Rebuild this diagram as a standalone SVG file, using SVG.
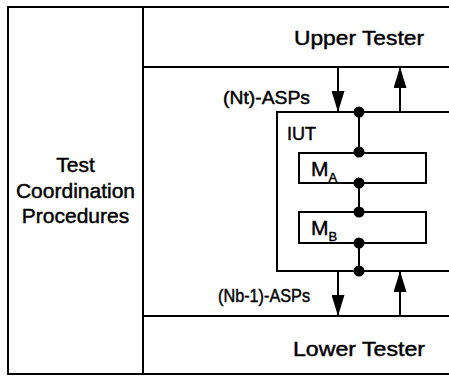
<svg xmlns="http://www.w3.org/2000/svg" width="449" height="378" viewBox="0 0 449 378">
  <style>
    .box { fill: none; stroke: #000; stroke-width: 2; }
    .line { fill: none; stroke: #000; stroke-width: 2; }
    .dot { fill: #000; }
    text { font-family: "Liberation Sans", Arial, Helvetica, sans-serif; fill: #000; stroke: #000; stroke-width: 0.45; }
    .big { font-size: 21px; }
    .lbl { font-size: 18px; }
  </style>
  <defs>
    <marker id="arrow" viewBox="0 0 21 13" refX="21" refY="6.5" markerWidth="21" markerHeight="13" markerUnits="userSpaceOnUse" orient="auto">
      <path d="M0,0 L21,6.5 L0,13 Z" fill="#000"/>
    </marker>
  </defs>
  <rect width="449" height="378" fill="#fff"/>

  <!-- outer frame (open on the right) -->
  <g id="frame">
    <path class="box" d="M451,7 H8 V374 H451"/>
  </g>

  <g id="test-coordination">
    <line class="line" x1="143" y1="7" x2="143" y2="374"/>
    <text class="big" x="75.5" y="172" text-anchor="middle">Test</text>
    <text class="big" x="75.5" y="198" text-anchor="middle">Coordination</text>
    <text class="big" x="75.5" y="223" text-anchor="middle">Procedures</text>
  </g>

  <g id="upper-tester">
    <line class="line" x1="143" y1="67" x2="451" y2="67"/>
    <text class="big" x="359" y="45" text-anchor="middle" textLength="130" lengthAdjust="spacingAndGlyphs">Upper Tester</text>
  </g>

  <g id="lower-tester">
    <line class="line" x1="143" y1="316" x2="451" y2="316"/>
    <text class="big" x="359" y="356" text-anchor="middle" textLength="132" lengthAdjust="spacingAndGlyphs">Lower Tester</text>
  </g>

  <g id="iut">
    <path class="box" d="M451,112 H277 V271 H451"/>
    <text class="lbl" x="287" y="140" font-size="19">IUT</text>
  </g>

  <g id="ma">
    <rect class="box" x="299" y="153" width="127" height="30"/>
    <text x="311" y="176" font-size="21">M<tspan font-size="13" dy="6">A</tspan></text>
  </g>

  <g id="mb">
    <rect class="box" x="299" y="212" width="127" height="31"/>
    <text x="311" y="235" font-size="21">M<tspan font-size="13" dy="6">B</tspan></text>
  </g>

  <g id="connectors">
    <!-- service access points -->
    <line class="line" x1="359" y1="112" x2="359" y2="153"/>
    <line class="line" x1="359" y1="183" x2="359" y2="212"/>
    <line class="line" x1="359" y1="243" x2="359" y2="271"/>
    <circle class="dot" cx="359" cy="112" r="5.5"/>
    <circle class="dot" cx="359" cy="152" r="5.5"/>
    <circle class="dot" cx="359" cy="183" r="5.5"/>
    <circle class="dot" cx="359" cy="212" r="5.5"/>
    <circle class="dot" cx="359" cy="243" r="5.5"/>
    <circle class="dot" cx="359" cy="271" r="5.5"/>

    <!-- upper ASP flows -->
    <line class="line" x1="338" y1="67" x2="338" y2="112" marker-end="url(#arrow)"/>
    <line class="line" x1="400" y1="112" x2="400" y2="67" marker-end="url(#arrow)"/>
    <text class="lbl" x="223" y="104" textLength="87" lengthAdjust="spacingAndGlyphs">(Nt)-ASPs</text>

    <!-- lower ASP flows -->
    <line class="line" x1="338" y1="271" x2="338" y2="316" marker-end="url(#arrow)"/>
    <line class="line" x1="400" y1="316" x2="400" y2="271" marker-end="url(#arrow)"/>
    <text class="lbl" x="218" y="302" textLength="92" lengthAdjust="spacingAndGlyphs">(Nb-1)-ASPs</text>
  </g>
</svg>
